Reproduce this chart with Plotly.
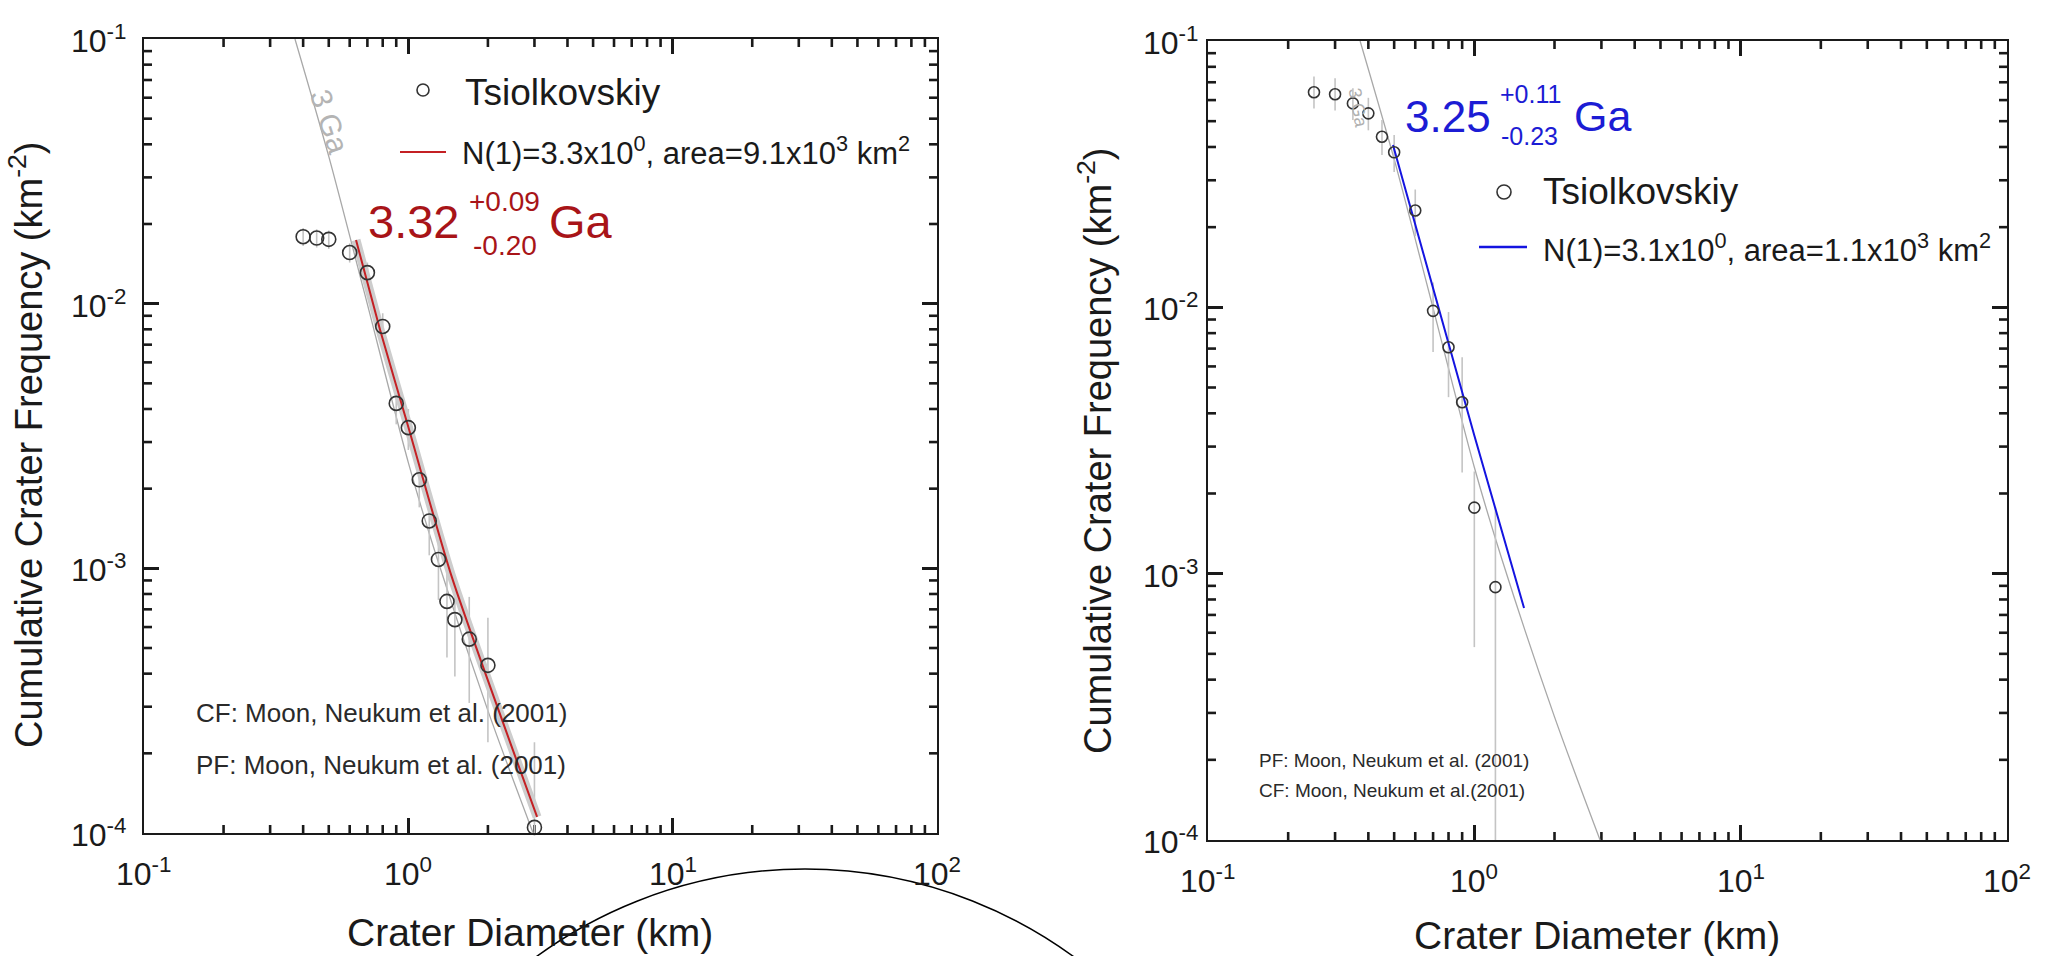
import math
import plotly.graph_objects as go

# ---------------- data ----------------
LEFT_D = [0.4, 0.45, 0.5, 0.6, 0.7, 0.8, 0.9, 1.0, 1.1, 1.2, 1.3, 1.4, 1.5, 1.7, 2.0, 3.0]
LEFT_N = [0.0179, 0.0177, 0.0175, 0.0156, 0.0131, 0.0082, 0.0042, 0.0034, 0.00216,
          0.00151, 0.00108, 0.00075, 0.00064, 0.00054, 0.00043, 0.000105]
LEFT_N_HI = [0.0193, 0.0191, 0.0189, 0.0169, 0.0143, 0.0092, 0.0049, 0.0040, 0.0026,
             0.0019, 0.0014, 0.00099, 0.00088, 0.00078, 0.00065, 0.00022]
LEFT_N_LO = [0.0165, 0.0163, 0.0161, 0.0143, 0.0119, 0.0072, 0.0035, 0.0028, 0.0017,
             0.00112, 0.00076, 0.00046, 0.00039, 0.00031, 0.00022, 0.000001]

RIGHT_D = [0.25, 0.3, 0.35, 0.4, 0.45, 0.5, 0.6, 0.7, 0.8, 0.9, 1.0, 1.2]
RIGHT_N = [0.0642, 0.0631, 0.0583, 0.0535, 0.0437, 0.0382, 0.0231, 0.0097, 0.00708,
           0.0044, 0.00177, 0.00089]
RIGHT_N_HI = [0.0735, 0.0725, 0.0665, 0.0612, 0.0505, 0.0444, 0.0277, 0.0124, 0.0096,
              0.0065, 0.00242, 0.00178]
RIGHT_N_LO = [0.0558, 0.0548, 0.0505, 0.0462, 0.0373, 0.0322, 0.0185, 0.0068, 0.0046,
              0.0024, 0.00053, 0.000001]

# 3 Ga isochron (same in both panels)
ISO_D = [0.3725, 0.5, 0.682, 1.0, 1.27, 2.0, 2.965]
ISO_N = [0.1, 0.036, 0.0110, 0.00251, 0.00113, 0.00029, 0.0001]

# fitted isochrons
FIT_L_D = [0.634, 0.782, 1.0, 1.459, 3.07]
FIT_L_N = [0.0174, 0.00796, 0.00342, 0.00093, 0.000115]
FIT_R_D = [0.495, 1.0, 1.537]
FIT_R_N = [0.0407, 0.0033, 0.000743]

X_TICKS = [0.1, 1, 10, 100]
X_TICKTEXT = ["10<sup>-1</sup>", "10<sup>0</sup>", "10<sup>1</sup>", "10<sup>2</sup>"]
Y_TICKS = [1e-4, 1e-3, 1e-2, 1e-1]
Y_TICKTEXT = ["10<sup>-4</sup>", "10<sup>-3</sup>", "10<sup>-2</sup>", "10<sup>-1</sup>"]

# ---------------- helpers ----------------
W, H = 2052, 956
FONT = "Liberation Sans, Arial, Helvetica, sans-serif"
INK = "#1a1a1a"
RED_TXT = "#a81418"
RED_LINE = "#c42024"
BLUE_TXT = "#1c1cd4"
BLUE_LINE = "#1414e0"
ERR = "#c4c4c4"

X_LO, X_HI = 0.1, 100.0
Y_LO, Y_HI = 1e-4, 1e-1


def fx(p):
    return p / W


def fy(p):
    return 1 - p / H


fig = go.Figure()
shapes = []


def add_minor_ticks(xa, ya, px_per_dec_x, px_per_dec_y, length=8):
    kx = 10 ** (length / px_per_dec_x)
    ky = 10 ** (length / px_per_dec_y)
    minor_x = [m * 10 ** e for e in range(-1, 2) for m in range(2, 10)]
    minor_y = [m * 10 ** e for e in range(-4, -1) for m in range(2, 10)]
    # bottom / top ticks as a line trace
    xs, ys = [], []
    for v in minor_x:
        xs += [v, v, None, v, v, None]
        ys += [Y_LO, Y_LO * ky, None, Y_HI, Y_HI / ky, None]
    fig.add_trace(go.Scatter(x=xs, y=ys, mode="lines", xaxis=xa, yaxis=ya,
                             line=dict(color=INK, width=2.6, simplify=False),
                             hoverinfo="skip"))
    # left / right ticks as shapes in data coordinates
    for v in minor_y:
        for a, b in ((X_LO, X_LO * kx), (X_HI, X_HI / kx)):
            shapes.append(dict(type="line", xref=xa, yref=ya, x0=a, x1=b, y0=v, y1=v,
                               line=dict(color=INK, width=2.6), layer="above"))


def add_panel(D, N, hi, lo, fitD, fitN, fitcolor, xa, ya, msize, band):
    fig.add_trace(go.Scatter(x=ISO_D, y=ISO_N, mode="lines", xaxis=xa, yaxis=ya,
                             line=dict(color="#a8a8a8", width=1.3, shape="spline", smoothing=0.8),
                             hoverinfo="skip"))
    fig.add_trace(go.Scatter(x=D, y=N, mode="markers", xaxis=xa, yaxis=ya,
                             marker=dict(size=2, opacity=0),
                             error_y=dict(type="data", symmetric=False,
                                          array=[h - n for h, n in zip(hi, N)],
                                          arrayminus=[n - l for n, l in zip(N, lo)],
                                          color=ERR, thickness=1.6, width=0),
                             hoverinfo="skip"))
    if band:
        fig.add_trace(go.Scatter(x=fitD, y=fitN, mode="lines", xaxis=xa, yaxis=ya,
                                 line=dict(color="#cdcdcd", width=9, shape="spline", smoothing=0.6),
                                 hoverinfo="skip"))
    fig.add_trace(go.Scatter(x=fitD, y=fitN, mode="lines", xaxis=xa, yaxis=ya,
                             line=dict(color=fitcolor, width=2, shape="spline", smoothing=0.6),
                             hoverinfo="skip"))
    fig.add_trace(go.Scatter(x=D, y=N, mode="markers", xaxis=xa, yaxis=ya, cliponaxis=False,
                             marker=dict(symbol="circle-open", size=msize,
                                         color="#333333", line=dict(width=1.6, color="#333333")),
                             hoverinfo="skip"))


add_minor_ticks("x", "y", 793 / 3, 794 / 3)
add_minor_ticks("x2", "y2", 799 / 3, 799 / 3)
add_panel(LEFT_D, LEFT_N, LEFT_N_HI, LEFT_N_LO, FIT_L_D, FIT_L_N, RED_LINE, "x", "y", 14, True)
add_panel(RIGHT_D, RIGHT_N, RIGHT_N_HI, RIGHT_N_LO, FIT_R_D, FIT_R_N, BLUE_LINE, "x2", "y2", 11, False)


def axis_common():
    return dict(type="log", showline=True, linecolor=INK, linewidth=2.4, mirror="allticks",
                ticks="inside", ticklen=15, tickwidth=2.6, tickcolor=INK,
                showgrid=False, zeroline=False, automargin=False, showticklabels=False)


xa = axis_common()
xa.update(range=[-1, 2], tickmode="array", tickvals=X_TICKS)
ya_ = axis_common()
ya_.update(range=[-4, -1], tickmode="array", tickvals=Y_TICKS)

fig.update_layout(
    width=W, height=H, margin=dict(l=0, r=0, t=0, b=0),
    paper_bgcolor="white", plot_bgcolor="white", showlegend=False,
    xaxis=dict(xa, domain=[fx(144), fx(937)], anchor="y"),
    yaxis=dict(ya_, domain=[fy(833), fy(39)], anchor="x"),
    xaxis2=dict(xa, domain=[fx(1208), fx(2007)], anchor="y2"),
    yaxis2=dict(ya_, domain=[fy(840), fy(41)], anchor="x2"),
)

ann = []


def text(x, y, s, size, color=INK, xanchor="left", angle=0):
    ann.append(dict(x=fx(x), y=fy(y), xref="paper", yref="paper", text=s, showarrow=False,
                    xanchor=xanchor, yanchor="middle", textangle=angle,
                    font=dict(family=FONT, size=size, color=color)))


# tick labels (placed on the axes' own scales)
for xr, ypix in (("x", 872), ("x2", 879)):
    for v, t in zip(X_TICKS, X_TICKTEXT):
        ann.append(dict(x=math.log10(v), y=fy(ypix), xref=xr, yref="paper", text=t,
                        showarrow=False, xanchor="center", yanchor="middle",
                        font=dict(family=FONT, size=32, color=INK)))
for yr, xpix in (("y", 129), ("y2", 1201)):
    for v, t in zip(Y_TICKS, Y_TICKTEXT):
        ann.append(dict(x=fx(xpix), y=math.log10(v), xref="paper", yref=yr, text=t,
                        showarrow=False, xanchor="right", yanchor="middle",
                        font=dict(family=FONT, size=32, color=INK)))

# axis titles
text(530, 932, "Crater Diameter (km)", 39, xanchor="center")
text(1597, 935, "Crater Diameter (km)", 39, xanchor="center")
text(26, 445, "Cumulative Crater Frequency (km<sup>-2</sup>)", 38, xanchor="center", angle=-90)
text(1095, 451, "Cumulative Crater Frequency (km<sup>-2</sup>)", 38, xanchor="center", angle=-90)

# left legend
text(463, 93, "Tsiolkovskiy", 37)
text(460, 151, "N(1)=3.3x10<sup>0</sup>, area=9.1x10<sup>3</sup> km<sup>2</sup>", 31)
# right legend
text(1541, 192, "Tsiolkovskiy", 37)
text(1541, 248, "N(1)=3.1x10<sup>0</sup>, area=1.1x10<sup>3</sup> km<sup>2</sup>", 31)

# model ages
text(366, 222, "3.32", 47, RED_TXT)
text(467, 202, "+0.09", 28, RED_TXT)
text(471, 246, "-0.20", 28, RED_TXT)
text(547, 222, "Ga", 47, RED_TXT)

text(1403, 116, "3.25", 44, BLUE_TXT)
text(1498, 94, "+0.11", 25, BLUE_TXT)
text(1499, 136, "-0.23", 25, BLUE_TXT)
text(1572, 116, "Ga", 43, BLUE_TXT)

# isochron labels
text(329, 121, "3 Ga", 30, "#b4b4b4", xanchor="center", angle=72)
text(1358, 108, "3 Ga", 18, "#b0b0b0", xanchor="center", angle=80)

# chronology notes
text(194, 713, "CF: Moon, Neukum et al. (2001)", 26, "#2a2a2a")
text(194, 765, "PF: Moon, Neukum et al. (2001)", 26, "#2a2a2a")
text(1257, 760, "PF: Moon, Neukum et al. (2001)", 19, "#2a2a2a")
text(1257, 790, "CF: Moon, Neukum et al.(2001)", 19, "#2a2a2a")

fig.update_layout(annotations=ann)

shapes += [
    # legend symbols
    dict(type="circle", xref="paper", yref="paper", x0=fx(417), x1=fx(429), y0=fy(96), y1=fy(84),
         line=dict(color="#333333", width=1.6)),
    dict(type="line", xref="paper", yref="paper", x0=fx(400), x1=fx(446), y0=fy(152), y1=fy(152),
         line=dict(color=RED_LINE, width=2)),
    dict(type="circle", xref="paper", yref="paper", x0=fx(1497), x1=fx(1511), y0=fy(199), y1=fy(185),
         line=dict(color="#333333", width=1.6)),
    dict(type="line", xref="paper", yref="paper", x0=fx(1479), x1=fx(1527), y0=fy(247), y1=fy(247),
         line=dict(color=BLUE_LINE, width=2.5)),
    # large circle drawn over the lower part of the figure
    dict(type="circle", xref="paper", yref="paper", x0=fx(350), x1=fx(1260), y0=fy(1779), y1=fy(869),
         line=dict(color="black", width=1.5)),
]
fig.update_layout(shapes=shapes)

fig.write_html("out.html", config={"displayModeBar": False},
               post_script="document.body.style.margin='0';")
